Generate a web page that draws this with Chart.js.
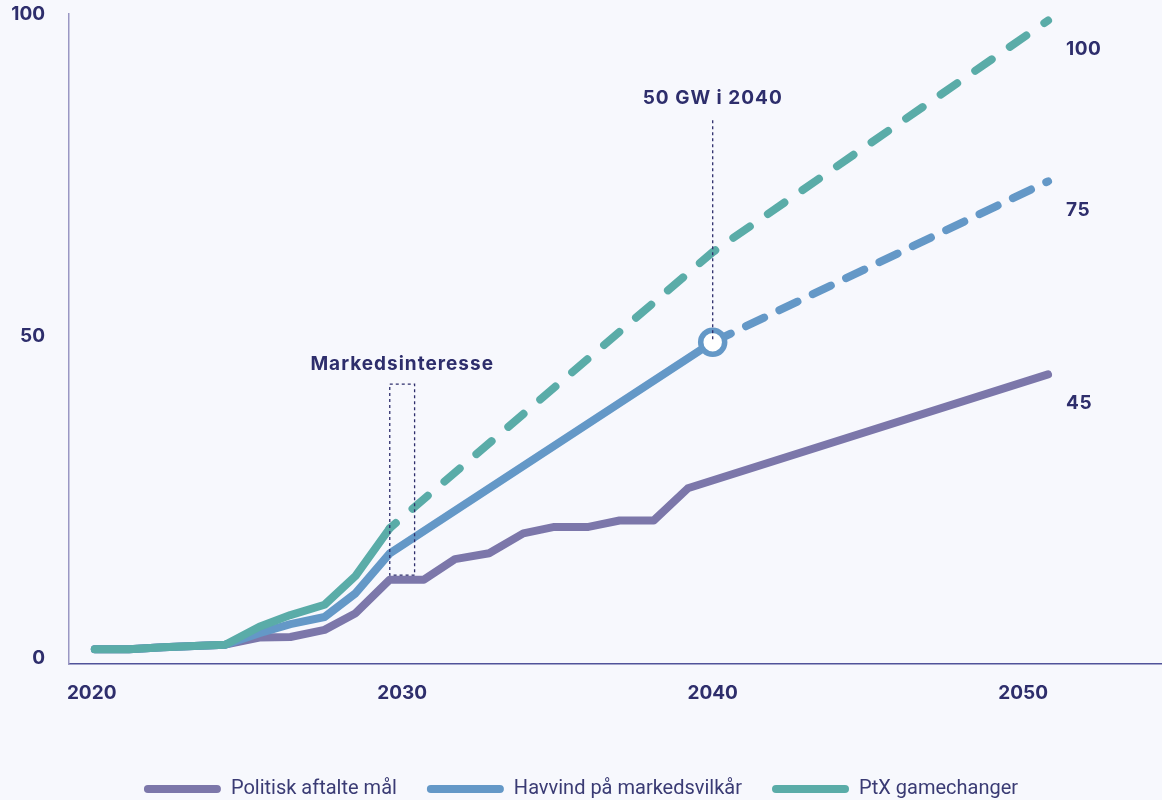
<!DOCTYPE html>
<html lang="da">
<head>
<meta charset="utf-8">
<title>Havvind – udbygning frem mod 2050</title>
<script src="https://cdn.jsdelivr.net/npm/chart.js@4.4.1/dist/chart.umd.min.js"></script>
<style>
  html, body { margin: 0; padding: 0; background: #f7f8fd; }
  #wrap { width: 1162px; height: 800px; position: relative; }
</style>
</head>
<body>
<div id="wrap"><canvas id="chart"></canvas></div>
<script>
// Installed capacity (GW) per scenario; null = no point for that series
const years = [2020.1, 2021.2, 2022.3, 2023.3, 2024.3, 2025.4, 2026.4, 2027.5, 2028.5, 2029.6,
               2030.7, 2031.7, 2032.8, 2033.9, 2034.9, 2036.0, 2037.0, 2038.1, 2039.2, 2040.0, 2050.8];
const politisk = [2.3, 2.3, 2.6, 2.8, 3.0, 4.1, 4.2, 5.3, 7.9, 13.1,
                  13.1, 16.3, 17.2, 20.3, 21.3, 21.3, 22.3, 22.3, 27.3, null, 45];
const havvind  = [2.3, 2.3, 2.6, 2.8, 3.0, 4.8, 6.2, 7.3, 11.0, 17.2,
                  null, null, null, null, null, null, null, null, null, 50, 75];
const ptx      = [2.3, 2.3, 2.6, 2.8, 3.0, 5.8, 7.6, 9.2, 13.7, 21.1,
                  null, null, null, null, null, null, null, null, null, 64, 100];

const seriesNames = ['Politisk aftalte mål', 'Havvind på markedsvilkår', 'PtX gamechanger'];
const xTickYears = [2020, 2030, 2040, 2050];
const yTickValues = [0, 50, 100];

// index from which each scenario is drawn as a projection (dashed)
const havvindDashFrom = 19;
const ptxDashFrom = 9;
const markerIndex = 19;

const callout = { text: '50 GW i 2040', year: 2040, value: 50, top: 84.5 };
const interestBox = { text: 'Markedsinteresse', x0: 2029.6, x1: 2030.4, y0: 13.8, y1: 43.5 };

const NAVY = '#2e2e6c';
const PURPLE = '#7c77aa';
const BLUE = '#6498c7';
const GREEN = '#5aaca8';

Chart.defaults.font.family = 'Inter, "Noto Sans", sans-serif';

const points = vals => years.map((yr, i) => ({ x: yr, y: vals[i] }));

const annotations = {
  id: 'annotations',
  afterDatasetsDraw(chart) {
    const { ctx, scales: { x, y } } = chart;
    ctx.save();
    ctx.strokeStyle = NAVY;
    ctx.lineWidth = 1.3;
    ctx.setLineDash([3, 3]);

    const bx0 = x.getPixelForValue(interestBox.x0);
    const bx1 = x.getPixelForValue(interestBox.x1);
    const byTop = y.getPixelForValue(interestBox.y1);
    const byBot = y.getPixelForValue(interestBox.y0);
    ctx.strokeRect(bx0, byTop, bx1 - bx0, byBot - byTop);

    const cx = x.getPixelForValue(callout.year);
    const cTop = y.getPixelForValue(callout.top);
    ctx.beginPath();
    ctx.moveTo(cx, cTop);
    ctx.lineTo(cx, y.getPixelForValue(callout.value));
    ctx.stroke();
    ctx.setLineDash([]);

    ctx.fillStyle = NAVY;
    ctx.font = '700 19px Inter, "Noto Sans", sans-serif';
    ctx.textBaseline = 'middle';
    ctx.textAlign = 'center';
    ctx.letterSpacing = '1px';
    ctx.fillText(interestBox.text, (bx0 + bx1) / 2, byTop - 20);
    ctx.fillText(callout.text, cx, cTop - 22);

    // end-of-line values
    ctx.textAlign = 'left';
    ctx.letterSpacing = '0.5px';
    chart.data.datasets.forEach(ds => {
      const last = ds.data[ds.data.length - 1];
      ctx.fillText(String(last.y), x.getPixelForValue(last.x) + 18, y.getPixelForValue(last.y) + 29);
    });
    ctx.restore();
  }
};

new Chart(document.getElementById('chart'), {
  type: 'line',
  data: {
    datasets: [
      {
        label: seriesNames[0],
        data: points(politisk),
        borderColor: PURPLE,
        backgroundColor: PURPLE,
        order: 3
      },
      {
        label: seriesNames[1],
        data: points(havvind),
        borderColor: BLUE,
        backgroundColor: BLUE,
        order: 2,
        pointRadius: c => (c.dataIndex === markerIndex ? 12 : 0),
        pointBorderWidth: 5.5,
        pointBackgroundColor: '#ffffff',
        pointBorderColor: BLUE,
        segment: {
          borderDash: c => (c.p0DataIndex >= havvindDashFrom ? [20, 17] : undefined)
        }
      },
      {
        label: seriesNames[2],
        data: points(ptx),
        borderColor: GREEN,
        backgroundColor: GREEN,
        order: 1,
        segment: {
          borderDash: c => (c.p0DataIndex >= ptxDashFrom ? [20, 22] : undefined),
          borderDashOffset: c => (c.p0DataIndex >= ptxDashFrom ? 12 : 0)
        }
      }
    ]
  },
  options: {
    responsive: true,
    maintainAspectRatio: false,
    animation: false,
    spanGaps: true,
    layout: { padding: { top: 14, left: 0, right: 0, bottom: -9 } },
    elements: {
      line: { borderWidth: 8, borderCapStyle: 'round', borderJoinStyle: 'round', tension: 0 },
      point: { radius: 0, hoverRadius: 0 }
    },
    scales: {
      x: {
        type: 'linear',
        min: 2019.27,
        max: 2054.47,
        afterBuildTicks: s => { s.ticks = xTickYears.map(v => ({ value: v })); },
        afterFit: s => { s.height = 85; s.paddingLeft = 0; s.paddingRight = 0; },
        grid: { display: false, drawTicks: false },
        border: { display: true, color: '#51539a', width: 1.5 },
        ticks: {
          color: NAVY,
          padding: 18,
          maxRotation: 0,
          font: { size: 19, weight: '700' },
          callback: v => String(v)
        }
      },
      y: {
        min: 0,
        max: 101,
        afterBuildTicks: s => { s.ticks = yTickValues.map(v => ({ value: v })); },
        afterFit: s => { s.width = 69; s.paddingTop = 0; s.paddingBottom = 0; },
        grid: { display: false, drawTicks: false },
        border: { display: true, color: '#9a97c4', width: 1.5 },
        ticks: {
          color: NAVY,
          padding: 24,
          labelOffset: -6,
          font: { size: 19, weight: '700' },
          callback: v => String(v)
        }
      }
    },
    plugins: {
      tooltip: { enabled: false },
      legend: {
        position: 'bottom',
        labels: {
          boxWidth: 77,
          boxHeight: 8,
          useBorderRadius: true,
          borderRadius: 4,
          padding: 30,
          color: '#3a3b74',
          font: { family: 'Roboto, "Noto Sans", sans-serif', size: 20, weight: '400' },
          sort: (a, b) => a.datasetIndex - b.datasetIndex,
          generateLabels: chart => Chart.defaults.plugins.legend.labels.generateLabels(chart).map(item => {
            const ds = chart.data.datasets[item.datasetIndex];
            return Object.assign(item, { fillStyle: ds.borderColor, strokeStyle: ds.borderColor, lineWidth: 0, lineDash: [] });
          })
        }
      }
    }
  },
  plugins: [annotations]
});
</script>
</body>
</html>
